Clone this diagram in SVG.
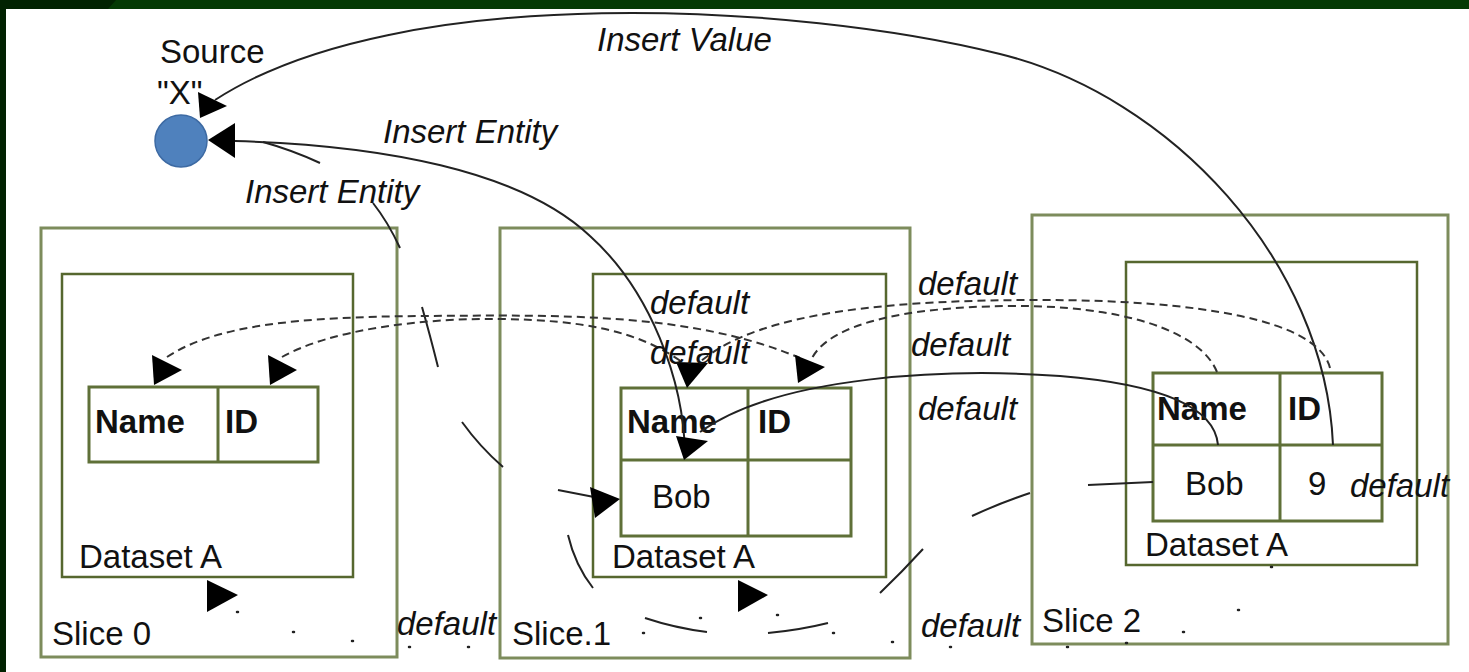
<svg xmlns="http://www.w3.org/2000/svg" width="1469" height="672" viewBox="0 0 1469 672">
  <style>
    .t { font-family: "Liberation Sans", Arial, sans-serif; font-size: 33px; fill: #111; }
    .b { font-weight: bold; }
    .i { font-style: italic; }
    .outer { fill: none; stroke: #7d8c5c; stroke-width: 3; }
    .inner { fill: none; stroke: #56672f; stroke-width: 2.5; }
    .cell { fill: none; stroke: #5f7038; stroke-width: 3; }
    .solid { fill: none; stroke: #222; stroke-width: 2; }
    .dash { fill: none; stroke: #333; stroke-width: 2; stroke-dasharray: 8 5; }
    .dot { fill: none; stroke: #222; stroke-width: 2.5; stroke-linecap: round; }
    .ah { fill: #000; }
  </style>

  <!-- slide frame -->
  <rect x="0" y="0" width="1469" height="672" fill="#043a04"/>
  <polygon points="0,0 116,0 108,9 6,9 6,672 0,672" fill="#012201"/>
  <rect x="6" y="9" width="1463" height="663" fill="#fff"/>

  <!-- Slice 0 -->
  <g id="slice0">
    <rect class="outer" x="41" y="228" width="356" height="429"/>
    <text class="t" x="52" y="645">Slice 0</text>
  </g>
  <g id="slice0-datasetA">
    <rect class="inner" x="62" y="274" width="291" height="303"/>
    <text class="t" x="79" y="568">Dataset A</text>
  </g>
  <g id="slice0-table">
    <rect class="cell" x="89" y="387" width="229" height="75"/>
    <line class="cell" x1="218" y1="387" x2="218" y2="462"/>
    <text class="t b" x="95" y="433">Name</text>
    <text class="t b" x="225" y="433">ID</text>
  </g>

  <!-- Slice 1 -->
  <g id="slice1">
    <rect class="outer" x="500" y="228" width="410" height="430"/>
    <text class="t" x="512" y="645">Slice.1</text>
  </g>
  <g id="slice1-datasetA">
    <rect class="inner" x="593" y="274" width="293" height="303"/>
    <text class="t" x="612" y="568">Dataset A</text>
  </g>
  <g id="slice1-table">
    <rect class="cell" x="621" y="388" width="230" height="148"/>
    <line class="cell" x1="621" y1="460" x2="851" y2="460"/>
    <line class="cell" x1="748" y1="388" x2="748" y2="536"/>
    <text class="t b" x="627" y="433">Name</text>
    <text class="t b" x="758" y="433">ID</text>
    <text class="t" x="652" y="508">Bob</text>
  </g>

  <!-- Slice 2 -->
  <g id="slice2">
    <rect class="outer" x="1032" y="215" width="416" height="429"/>
    <text class="t" x="1042" y="632">Slice 2</text>
  </g>
  <g id="slice2-datasetA">
    <rect class="inner" x="1126" y="262" width="291" height="303"/>
    <text class="t" x="1145" y="556">Dataset A</text>
  </g>
  <g id="slice2-table">
    <rect class="cell" x="1153" y="373" width="229" height="148"/>
    <line class="cell" x1="1153" y1="445" x2="1382" y2="445"/>
    <line class="cell" x1="1280" y1="373" x2="1280" y2="521"/>
    <text class="t b" x="1157" y="420">Name</text>
    <text class="t b" x="1288" y="420">ID</text>
    <text class="t" x="1185" y="495">Bob</text>
    <text class="t" x="1308" y="495">9</text>
  </g>

  <!-- Source "X" -->
  <g id="source">
    <circle cx="181" cy="141" r="26" fill="#4f81bd" stroke="#3d6aa3" stroke-width="1.5"/>
    <text class="t" x="160" y="63">Source</text>
    <text class="t" x="157" y="104">"X"</text>
  </g>

  <g id="connectors">
    <!-- Insert Value: slice 2 ID up over the top to the source -->
    <path class="solid" d="M1333,445 C1325,260 1170,96 1000,54 C800,4 400,-20 215,100"/>
    <!-- Insert Entity: slice 1 Name to the source -->
    <path class="solid" d="M235,141 C380,145 520,170 590,236 C650,290 684,380 685,455"/>
    <!-- slice 2 Name to slice 1 Name -->
    <path class="solid" d="M1218,445 C1215,410 1170,385 1060,376 C950,368 780,375 700,432"/>
    <!-- Insert Entity: long-dashed, source to slice 1 Bob -->
    <path class="solid" d="M263,142 Q292,150 320,163 M373,203 Q388,222 400,248 M422,307 Q430,335 438,367 M462,422 Q480,447 503,467 M558,490 L594,497"/>
    <!-- long-dashed, slice 2 Bob round the bottom to slice 1 -->
    <path class="solid" d="M568,535 Q575,565 593,588 M645,618 Q675,628 707,632 M768,633 Q800,630 828,623 M880,593 Q902,572 923,549 M972,516 Q1000,503 1030,493 M1088,485 L1153,482"/>

    <!-- default (dashed) links between Name / ID cells -->
    <path class="dash" d="M167,357 C215,325 300,317 420,316 C560,315 690,312 800,358"/>
    <path class="dash" d="M282,357 C330,330 420,318 500,319 C580,320 640,330 686,365"/>
    <path class="dash" d="M1330,368 C1318,320 1200,300 1040,300 C900,300 760,310 700,362"/>
    <path class="dash" d="M1217,372 C1200,330 1120,305 1010,306 C900,307 830,325 812,358"/>

    <!-- default (dotted) links between datasets -->
    <path class="dot" d="M237,612 h1 M293,632 h1 M352,641 h1 M409,647 h1 M468,647 h1 M643,633 h1 M700,618 h1"/>
    <path class="dot" d="M777,615 h1 M833,633 h1 M892,642 h1 M950,647 h1 M1067,647 h1 M1126,643 h1 M1183,632 h1 M1238,610 h1 M1271,567 h1"/>

    <!-- arrowheads -->
    <polygon class="ah" points="198,92 227,106 200,118"/>
    <polygon class="ah" points="208,140 235,123 235,158"/>
    <polygon class="ah" points="152,355 182,370 154,385"/>
    <polygon class="ah" points="268,355 297,370 270,385"/>
    <polygon class="ah" points="207,580 238,595 207,612"/>
    <polygon class="ah" points="676,362 708,363 687,388"/>
    <polygon class="ah" points="795,355 825,367 798,383"/>
    <polygon class="ah" points="676,436 708,441 684,460"/>
    <polygon class="ah" points="590,487 620,499 595,518"/>
    <polygon class="ah" points="738,580 768,595 738,612"/>

    <!-- labels -->
    <text class="t i" x="597" y="51">Insert Value</text>
    <text class="t i" x="383" y="143">Insert Entity</text>
    <text class="t i" x="245" y="203">Insert Entity</text>
    <text class="t i" x="650" y="314">default</text>
    <text class="t i" x="650" y="364">default</text>
    <text class="t i" x="918" y="295">default</text>
    <text class="t i" x="911" y="356">default</text>
    <text class="t i" x="918" y="420">default</text>
    <text class="t i" x="1350" y="497">default</text>
    <text class="t i" x="397" y="635">default</text>
    <text class="t i" x="921" y="637">default</text>
  </g>
</svg>
